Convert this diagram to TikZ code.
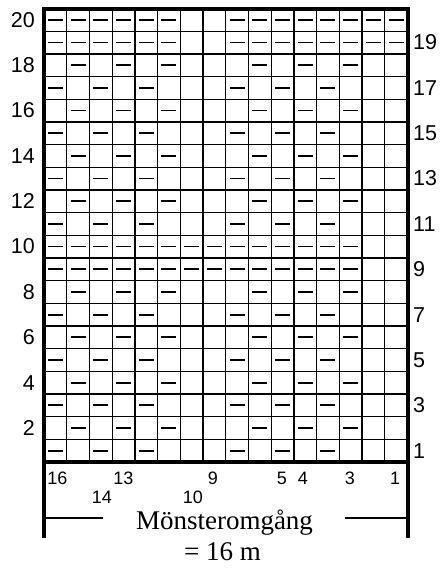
\documentclass[tikz,border=0pt]{standalone}
\usepackage{fontspec}
\setmainfont{Liberation Serif}
\newfontfamily\numfont{Liberation Sans}
\begin{document}
\begin{tikzpicture}[x=1pt,y=-1pt,
  gridline/.style={line width=1.3pt,black},
  frameline/.style={line width=4pt,black,line join=miter},
  knitdash/.style={line width=1.8pt,black},
  rowlab/.style={font=\numfont\fontsize{21.5}{21.5}\selectfont,inner sep=0pt},
  collab/.style={font=\numfont\fontsize{18}{18}\selectfont,inner sep=0pt},
  caption/.style={font=\fontsize{27}{27}\selectfont,inner sep=0pt,anchor=base}]
\useasboundingbox (0,0) rectangle (439,570);
\pgfmathsetmacro{\GL}{44}
\pgfmathsetmacro{\GR}{407.5}
\pgfmathsetmacro{\GT}{8.5}
\pgfmathsetmacro{\GB}{462}
\pgfmathsetmacro{\cellw}{(\GR-\GL)/16}
\pgfmathsetmacro{\cellh}{(\GB-\GT)/20}
% grid
\foreach \k in {1,...,15}
  \draw[gridline] ({\GL+\k*\cellw},\GT) -- ({\GL+\k*\cellw},\GB);
\foreach \k in {1,...,19}
  \draw[gridline] (\GL,{\GB-\k*\cellh}) -- (\GR,{\GB-\k*\cellh});
% dashes
\newcommand{\knitmark}[2]{%
  \draw[knitdash] ({\GL+(#1-0.5)*\cellw-7.5},{\GB-(#2-0.5)*\cellh}) -- ({\GL+(#1-0.5)*\cellw+7.5},{\GB-(#2-0.5)*\cellh});}
\foreach \r in {19,20}
  \foreach \c in {1,2,3,4,5,6,9,10,11,12,13,14,15,16}
    {\knitmark{\c}{\r}}
\foreach \r in {9,10}
  \foreach \c in {1,...,14}
    {\knitmark{\c}{\r}}
\foreach \r in {2,4,6,8,12,14,16,18}
  \foreach \c in {2,4,6,10,12,14}
    {\knitmark{\c}{\r}}
\foreach \r in {1,3,5,7,11,13,15,17}
  \foreach \c in {1,3,5,9,11,13}
    {\knitmark{\c}{\r}}
% frame
\draw[frameline] (\GL,538) -- (\GL,\GT) -- (\GR,\GT) -- (\GR,538);
\draw[line width=4.5pt] (\GL,\GB) -- (\GR,\GB);
% row labels
\foreach \r in {2,4,...,20}
  \node[rowlab,anchor=east] (rl\r) at (35,{\GB-(\r-0.5)*\cellh}) {\r};
\foreach \r in {1,3,...,19}
  \node[rowlab,anchor=west] (rr\r) at (413,{\GB-(\r-0.5)*\cellh}) {\r};
% column labels
\node[collab] (c16) at (57.5,478) {16};
\node[collab] (c13) at (123.5,478) {13};
\node[collab] (c14) at (102,497) {14};
\node[collab] (c10) at (193,497) {10};
\node[collab] (c9) at (213,478) {9};
\node[collab] (c5) at (282,478) {5};
\node[collab] (c4) at (303,478) {4};
\node[collab] (c3) at (350,478) {3};
\node[collab] (c1) at (395,478) {1};
% caption
\node[caption] (cap1) at (224.5,529) {Mönsteromgång};
\node[caption] (cap2) at (222.5,560) {= 16 m};
\coordinate (la) at (\GL,518);
\coordinate (lb) at (103,518);
\coordinate (ra) at (345,518);
\coordinate (rb) at (\GR,518);
\draw[line width=1.2pt] (la) -- (lb);
\draw[line width=1.2pt] (ra) -- (rb);
\end{tikzpicture}
\end{document}
